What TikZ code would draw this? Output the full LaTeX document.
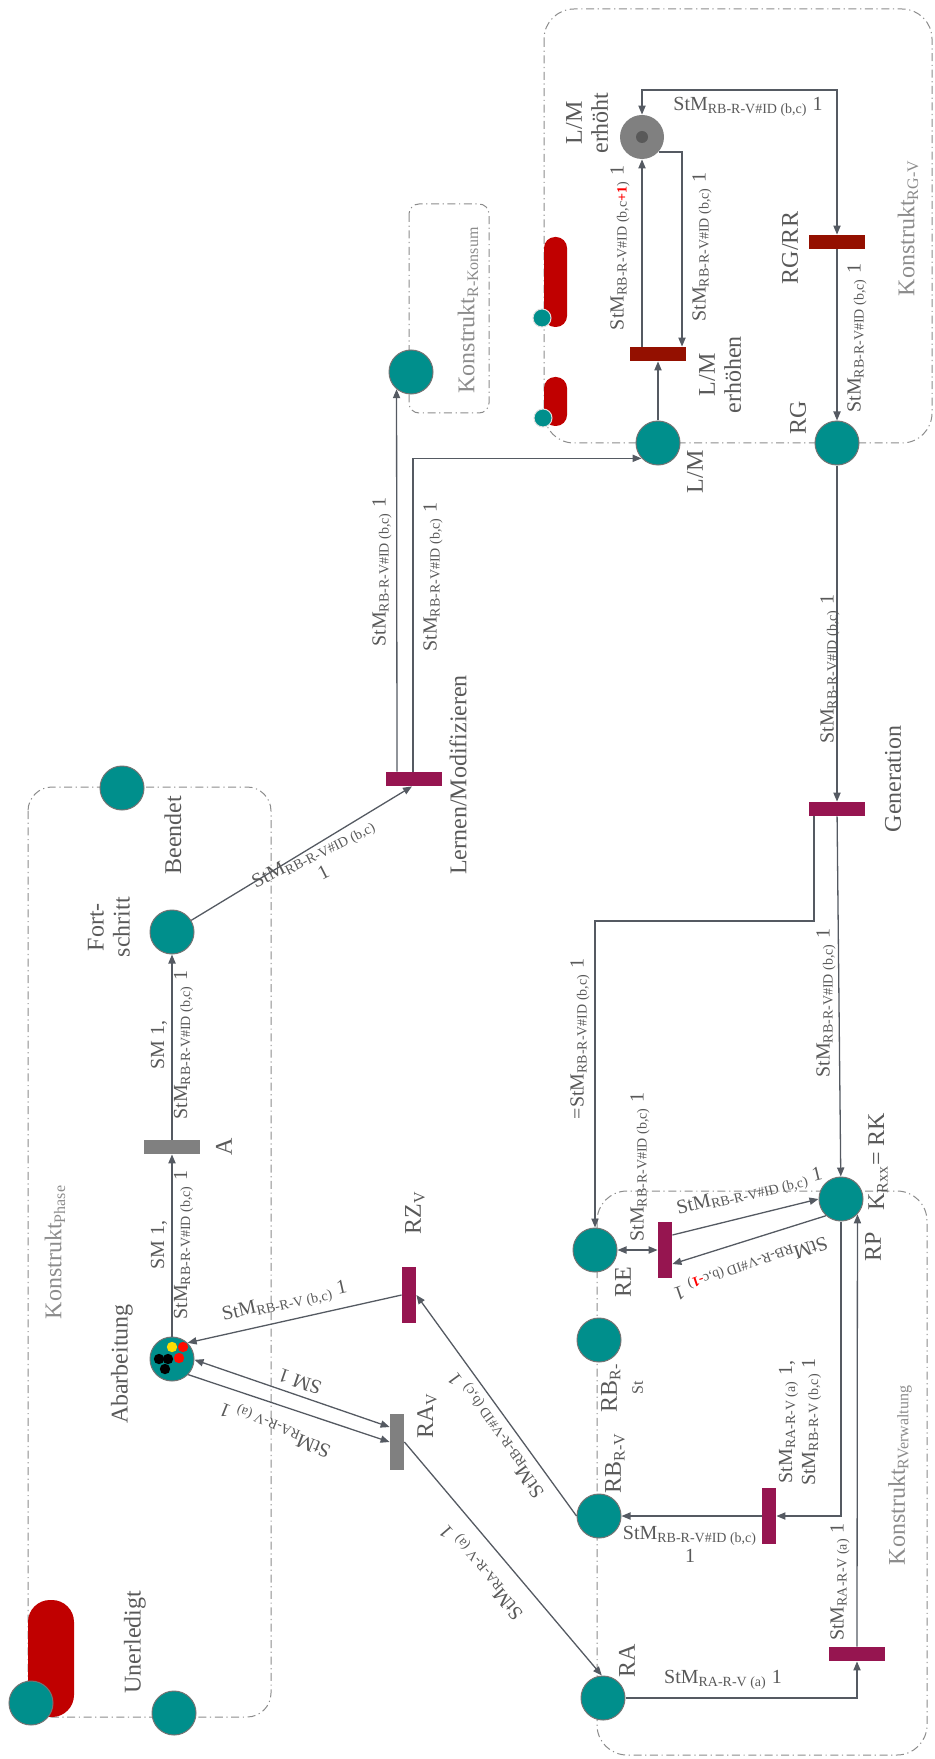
\documentclass[tikz,border=0pt]{standalone}
\usepackage{fontspec}
\setmainfont{Liberation Serif}
\usetikzlibrary{arrows.meta,calc,backgrounds}

\definecolor{placefill}{RGB}{0,143,140}
\definecolor{placeedge}{RGB}{115,115,115}
\definecolor{trmag}{RGB}{150,21,80}
\definecolor{trred}{RGB}{148,16,0}
\definecolor{trgray}{RGB}{128,128,128}
\definecolor{pillred}{RGB}{192,0,0}
\definecolor{wire}{RGB}{85,90,98}
\definecolor{ink}{RGB}{89,89,89}
\definecolor{pale}{RGB}{140,140,140}
\definecolor{boxline}{RGB}{140,140,140}

\tikzset{
  place/.style={circle, fill=placefill, draw=placeedge, line width=0.5pt, minimum size=22pt, inner sep=0pt},
  minip/.style={circle, fill=placefill, draw=white!75!gray, line width=0.5pt, minimum size=9pt, inner sep=0pt},
  trh/.style={rectangle, minimum width=28pt, minimum height=7pt, inner sep=0pt},
  trv/.style={rectangle, minimum width=7pt, minimum height=28pt, inner sep=0pt},
  nm/.style={text=ink, font=\fontsize{12}{13}\selectfont, rotate=90, align=center, inner sep=0pt},
  wl/.style={text=ink, font=\fontsize{10}{11.5}\selectfont, align=center, inner sep=0pt},
  kl/.style={text=pale, font=\fontsize{12}{13}\selectfont, rotate=90, inner sep=0pt},
  arc/.style={draw=wire, line width=0.65pt, -{Triangle[length=4.5pt,width=3.6pt]}},
  arcboth/.style={draw=wire, line width=0.65pt, {Triangle[length=4.5pt,width=3.6pt]}-{Triangle[length=4.5pt,width=3.6pt]}},
  construct/.style={draw=boxline, line width=0.5pt, dash pattern=on 4pt off 1.8pt on 0.6pt off 1.8pt},
}

\begin{document}
\begin{tikzpicture}[x=0.5pt,y=-0.5pt]
\useasboundingbox (0,0) rectangle (935,1759);

% red capsules behind the small places
\fill[pillred, rounded corners=11pt] (28,1600) rectangle (74,1717);
\fill[pillred, rounded corners=5.5pt] (544,237) rectangle (567,327);
\fill[pillred, rounded corners=5.5pt] (544,377) rectangle (567,426);

% ---------- places ----------
\node[place] (beendet) at (122,788) {};
\node[place] (fort) at (172,932) {};
\node[place] (abar) at (172,1359) {};
\node[place] (uner) at (174,1713) {};
\node[place] (corner) at (31,1703) {};
\node[place] (kons) at (411,372) {};
\node[place] (lm) at (658,443) {};
\node[place] (rg) at (837,443) {};
\node[circle, fill=trgray, minimum size=22pt, inner sep=0pt] (lmh) at (642,137) {};
\fill[black!65] (lmh) circle (3pt);
\node[place] (re) at (595,1250) {};
\node[place] (rbst) at (599,1340) {};
\node[place] (rbv) at (599,1516) {};
\node[place] (ra) at (603,1698) {};
\node[place] (rp) at (841,1199) {};
\node[minip] (m1) at (542,318) {};
\node[minip] (m2) at (543,418) {};

% tokens in Abarbeitung
\fill[yellow!80!orange] (172,1347) circle (2.6pt);
\fill[red!90!orange] (183,1347) circle (2.6pt);
\fill[red!90!orange] (179,1358) circle (2.6pt);
\fill[black] (159,1359) circle (2.6pt);
\fill[black] (168,1359) circle (2.6pt);
\fill[black] (165,1369) circle (2.6pt);

% ---------- transitions ----------
\node[trh, fill=trgray] (A) at (172,1147) {};
\node[trh, fill=trmag] (lern) at (414,779) {};
\node[trh, fill=trred] (lme) at (658,354) {};
\node[trh, fill=trred] (rgrr) at (837,242) {};
\node[trh, fill=trmag] (gen) at (837,809) {};
\node[trv, fill=trmag] (ret) at (665,1250) {};
\node[trv, fill=trmag] (rbt) at (769,1516) {};
\node[trh, fill=trmag] (bt) at (857,1654) {};
\node[trv, fill=trmag] (rzv) at (409,1295) {};
\node[trv, fill=trgray] (rav) at (397,1442) {};

% ---------- construct frames ----------
\begin{scope}[on background layer]
\draw[construct, rounded corners=12pt] (28,787) rectangle (271,1717);
\draw[construct, rounded corners=5pt] (409,204) rectangle (489,413);
\draw[construct, rounded corners=15pt] (544,9) rectangle (932,443);
\draw[construct, rounded corners=15pt] (597,1191) rectangle (927,1755);
\end{scope}

% ---------- arcs ----------
\draw[arc] (abar) -- (A.south);
\draw[arc] (A.north) -- (fort);
\draw[arc] (fort) -- ($(lern.south)+(-2,0)$);
\draw[arc] ($(lern.north)+(-17,0)$) -- (kons.230);
\draw[arc] ($(lern.north)+(-1,0)$) |- (lm.223);
\draw[arc] (lm) -- (lme);
\draw[arc] ($(lme.north)+(-16,0)$) -- (lmh.south);
\draw[arc] (lmh.-42) -| ($(lme.north)+(24,0)$);
\coordinate (looptop) at (740,90);
\draw[arcboth] (lmh.north) |- (looptop) -| (rgrr.north);
\draw[arc] (rgrr) -- (rg);
\draw[arc] (rg) -- (gen);
\coordinate (gbend) at (595,921);
\draw[arc] ($(gen.south)+(-23,0)$) |- (gbend) -- (re);
\draw[arc] (gen) -- (rp);
\draw[arcboth] (re) -- (ret);
\draw[arc] ($(ret.east)+(0,-15)$) -- (rp.180);
\draw[arc] (rp.228) -- ($(ret.east)+(0,14)$);
\draw[arc] (rp.south) |- (rbt.east);
\draw[arc] (rbt) -- (rbv);
\draw[arc] (ra) -| (bt.south);
\draw[arc] (bt.north) -- (rp.-43);
\draw[arc] (rbv.west) -- (rzv.east);
\draw[arc] (rzv.west) -- (abar.46);
\draw[arcboth] (abar.-2) -- ($(rav.west)+(0,-15)$);
\draw[arc] (abar.-44) -- (rav.west);
\draw[arc] (rav.east) -- (ra.93);

% ---------- place and transition names ----------
\node[nm] at (173,835) {Beendet};
\node[nm] at (109,927) {Fort-\\schritt};
\node[nm] at (224,1147) {A};
\node[nm] at (122,1364) {Abarbeitung};
\node[nm] at (135,1642) {Unerledigt};
\node[nm] at (458,775) {Lernen/Modifizieren};
\node[nm] at (415,1213) {RZ\textsubscript{V}};
\node[nm] at (427,1416) {RA\textsubscript{V}};
\node[nm] at (623,1282) {RE};
\node[nm] at (622,1388) {RB\textsubscript{R-}\\{\fontsize{8}{9}\selectfont St}};
\node[nm] at (615,1463) {RB\textsubscript{R-V}};
\node[nm] at (627,1661) {RA};
\node[nm] at (873,1247) {RP};
\node[nm] at (878,1162) {K\textsubscript{Rxx}= RK};
\node[nm] at (893,779) {Generation};
\node[nm] at (695,472) {L/M};
\node[nm] at (798,418) {RG};
\node[nm] at (790,248) {RG/RR};
\node[nm] at (720,375) {L/M\\erhöhen};
\node[nm] at (587,123) {L/M\\erhöht};

\node[kl] at (55,1252) {Konstrukt\textsubscript{Phase}};
\node[kl] at (468,310) {Konstrukt\textsubscript{R-Konsum}};
\node[kl] at (908,228) {Konstrukt\textsubscript{RG-V}};
\node[kl] at (900,1475) {Konstrukt\textsubscript{RVerwaltung}};

% ---------- arc inscriptions ----------
\node[wl, rotate=90] at (172,1045) {SM 1,\\StM\textsubscript{RB-R-V\#ID (b,c)} 1};
\node[wl, rotate=90] at (172,1245) {SM 1,\\StM\textsubscript{RB-R-V\#ID (b,c)} 1};
\node[wl, rotate=27] at (318,862) {StM\textsubscript{RB-R-V\#ID (b,c)}\\1};
\node[wl, rotate=90] at (382,572) {StM\textsubscript{RB-R-V\#ID (b,c)} 1};
\node[wl, rotate=90] at (433,577) {StM\textsubscript{RB-R-V\#ID (b,c)} 1};
\node[wl, rotate=90] at (830,669) {StM\textsubscript{RB-R-V\#ID (b,c)} 1};
\node[wl, rotate=90] at (580,1039) {=StM\textsubscript{RB-R-V\#ID (b,c)} 1};
\node[wl, rotate=90] at (826,1003) {StM\textsubscript{RB-R-V\#ID (b,c)} 1};
\node[wl, rotate=90] at (640,1167) {StM\textsubscript{RB-R-V\#ID (b,c)} 1};
\node[wl, rotate=13.6] at (750,1193) {StM\textsubscript{RB-R-V\#ID (b,c)} 1};
\node[wl, rotate=199] at (750,1266) {StM\textsubscript{RB-R-V\#ID (b,c\textcolor{red}{\textbf{-1}})} 1};
\node[wl, rotate=90] at (800,1422) {StM\textsubscript{RA-R-V (a)} 1,\\StM\textsubscript{RB-R-V (b,c)} 1};
\node[wl] at (690,1544) {StM\textsubscript{RB-R-V\#ID (b,c)}\\1};
\node[wl] at (723,1680) {StM\textsubscript{RA-R-V (a)} 1};
\node[wl, rotate=90] at (840,1582) {StM\textsubscript{RA-R-V (a)} 1};
\node[wl, rotate=12.8] at (285,1303) {StM\textsubscript{RB-R-V (b,c)} 1};
\node[wl, rotate=161] at (300,1382) {SM 1};
\node[wl, rotate=158] at (276,1428) {StM\textsubscript{RA-R-V (a)} 1};
\node[wl, rotate=130.5] at (483,1571) {StM\textsubscript{RA-R-V (a)} 1};
\node[wl, rotate=126] at (498,1434) {StM\textsubscript{RB-R-V\#ID (b,c)} 1};
\node[wl, rotate=90] at (857,338) {StM\textsubscript{RB-R-V\#ID (b,c)} 1};
\node[wl] at (748,107) {StM\textsubscript{RB-R-V\#ID (b,c)} 1};
\node[wl, rotate=90] at (620,248) {StM\textsubscript{RB-R-V\#ID (b,c\textcolor{red}{\textbf{+1}})} 1};
\node[wl, rotate=90] at (702,247) {StM\textsubscript{RB-R-V\#ID (b,c)} 1};
\end{tikzpicture}
\end{document}
